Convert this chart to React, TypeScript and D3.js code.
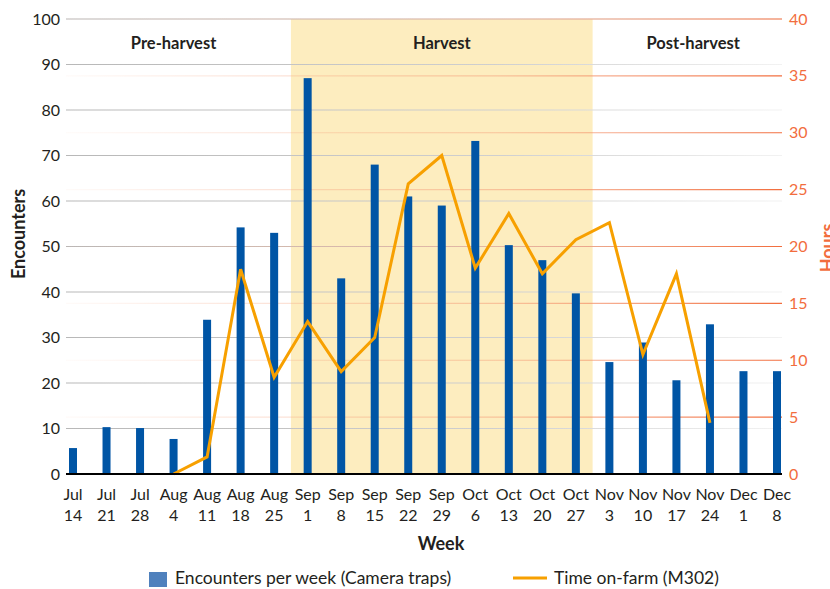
import React from "react";
import * as d3 from "d3";

const weeks = ["Jul|14","Jul|21","Jul|28","Aug|4","Aug|11","Aug|18","Aug|25","Sep|1","Sep|8","Sep|15","Sep|22","Sep|29","Oct|6","Oct|13","Oct|20","Oct|27","Nov|3","Nov|10","Nov|17","Nov|24","Dec|1","Dec|8"];
const encounters = [5.7,10.3,10.1,7.7,33.9,54.2,53,87,43,68,61,59,73.2,50.3,47,39.7,24.6,28.9,20.6,32.9,22.6,22.6];
const hours: (number | null)[] = [null,null,null,0,1.5,18,8.5,13.4,9,12,25.5,28,18.1,22.9,17.6,20.6,22.1,10.5,17.6,4.5,null,null];
const leftTicks = [0,10,20,30,40,50,60,70,80,90,100];
const rightTicks = [0,5,10,15,20,25,30,35,40];
const phases = [
  { label: "Pre-harvest", from: "Jul|14", to: "Aug|25" },
  { label: "Harvest", from: "Sep|1", to: "Oct|27" },
  { label: "Post-harvest", from: "Nov|3", to: "Dec|8" },
];

const FONT = "Lato, 'Open Sans', sans-serif";
const TEXT = "#231f20";
const ORANGE_TXT = "#f26d3d";

export default function App() {
  const left = 66, right = 782, top = 19, bottom = 474;
  const x = d3.scalePoint<string>().domain(weeks).range([73, 777]);
  const step = x.step();
  const yL = d3.scaleLinear().domain([0, 100]).range([bottom, top]);
  const yR = d3.scaleLinear().domain([0, 40]).range([bottom, top]);
  const line = d3.line<number | null>()
    .defined((d) => d !== null)
    .x((_, i) => x(weeks[i])!)
    .y((d) => yR(d as number));
  const barW = 8;
  const hx0 = x("Sep|1")! - step / 2;
  const hx1 = x("Oct|27")! + step / 2;

  return (
    <svg width={830} height={589} style={{ position: "absolute", left: 0, top: 0, fontFamily: FONT }}>
      <defs>
        <linearGradient id="og" x1={left} x2={right} y1={0} y2={0} gradientUnits="userSpaceOnUse">
          <stop offset="0" stopColor="#f4a07c" stopOpacity={0.05} />
          <stop offset="0.6" stopColor="#f4a07c" stopOpacity={0.55} />
          <stop offset="1" stopColor="#f26d3d" stopOpacity={1} />
        </linearGradient>
        <linearGradient id="gg" x1={left} x2={right} y1={0} y2={0} gradientUnits="userSpaceOnUse">
          <stop offset="0" stopColor="#b8b8b8" />
          <stop offset="0.6" stopColor="#cfcfcf" />
          <stop offset="1" stopColor="#f2f2f2" />
        </linearGradient>
      </defs>
      <rect x={hx0} y={top} width={hx1 - hx0} height={bottom - top} fill="#fdedbf" />
      {leftTicks.filter((t) => t > 0).map((t) => (
        <line key={"g" + t} x1={left} x2={right} y1={yL(t)} y2={yL(t)} stroke="url(#gg)" strokeWidth={1.2} />
      ))}
      {rightTicks.filter((t) => t > 0).map((t) => (
        <line key={"o" + t} x1={left} x2={right} y1={yR(t)} y2={yR(t)} stroke="url(#og)" strokeWidth={1.2} />
      ))}
      {phases.map((p) => (
        <text key={p.label} x={(x(p.from)! + x(p.to)!) / 2} y={49} textAnchor="middle" fontSize={16.5} fontWeight="bold" fill={TEXT}>{p.label}</text>
      ))}
      {encounters.map((v, i) => (
        <rect key={"b" + i} x={x(weeks[i])! - barW / 2} y={yL(v)} width={barW} height={bottom - yL(v)} fill="#0055a5" />
      ))}
      <path d={line(hours) || ""} fill="none" stroke="#f7a000" strokeWidth={3} strokeLinejoin="miter" />
      <line x1={left} x2={right} y1={bottom} y2={bottom} stroke="#000" strokeWidth={2} />
      {leftTicks.map((t) => (
        <text key={"l" + t} x={60} y={yL(t) + 5.5} textAnchor="end" fontSize={16} fill={TEXT}>{t}</text>
      ))}
      {rightTicks.map((t) => (
        <text key={"r" + t} x={789} y={yR(t) + 5.5} textAnchor="start" fontSize={16} fill={ORANGE_TXT}>{t}</text>
      ))}
      {weeks.map((w) => {
        const [m, d] = w.split("|");
        return (
          <g key={w}>
            <text x={x(w)!} y={500} textAnchor="middle" fontSize={16} fill={TEXT}>{m}</text>
            <text x={x(w)!} y={521} textAnchor="middle" fontSize={16} fill={TEXT}>{d}</text>
          </g>
        );
      })}
      <text x={441} y={550} textAnchor="middle" fontSize={18} fontWeight="bold" fill={TEXT}>Week</text>
      <text transform={`translate(25,234) rotate(-90)`} textAnchor="middle" fontSize={18} fontWeight="bold" fill={TEXT}>Encounters</text>
      <text transform={`translate(834,248) rotate(-90)`} textAnchor="middle" fontSize={18} fontWeight="bold" fill={ORANGE_TXT}>Hours</text>
      <rect x={149} y={572} width={18} height={15} fill="#4f81bd" />
      <text x={175} y={584} fontSize={17.5} fill={TEXT}>Encounters per week (Camera traps)</text>
      <line x1={513} x2={547} y1={578} y2={578} stroke="#f7a000" strokeWidth={3} />
      <text x={554} y={584} fontSize={17.5} fill={TEXT}>Time on-farm (M302)</text>
    </svg>
  );
}
